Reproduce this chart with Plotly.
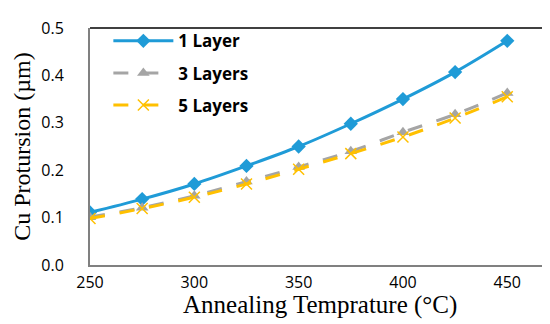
import plotly.graph_objects as go

temps = [250, 275, 300, 325, 350, 375, 400, 425, 450]
layer1 = [0.111, 0.139, 0.171, 0.209, 0.250, 0.298, 0.350, 0.407, 0.473]
layer3 = [0.101, 0.121, 0.146, 0.176, 0.207, 0.240, 0.280, 0.318, 0.363]
layer5 = [0.098, 0.119, 0.143, 0.171, 0.202, 0.235, 0.270, 0.310, 0.355]
series_names = ["1 Layer", "3 Layers", "5 Layers"]
x_title = "Annealing Temprature (°C)"
y_title = "Cu Protursion (µm)"

fig = go.Figure()
fig.add_trace(go.Scatter(x=temps, y=layer1, name=series_names[0], legendgroup="a", mode="lines+markers",
                         line=dict(color="#1F9BD7", width=3, shape="spline"),
                         marker=dict(symbol="diamond", size=11, color="#1F9BD7")))
fig.add_trace(go.Scatter(x=temps, y=layer3, name=series_names[1], legendgroup="b", mode="lines+markers",
                         line=dict(color="#A5A5A5", width=3, shape="spline", dash="longdash"),
                         marker=dict(symbol="triangle-up", size=11, color="#A5A5A5")))
fig.add_trace(go.Scatter(x=temps, y=layer5, name=series_names[2], legendgroup="c", mode="lines+markers",
                         line=dict(color="#FFC000", width=3, shape="spline", dash="longdash"),
                         marker=dict(symbol="x-thin", size=11, color="#FFC000",
                                     line=dict(color="#FFC000", width=1.5))))

fig.update_layout(
    width=550, height=324,
    margin=dict(l=82, r=9, t=13, b=67),
    plot_bgcolor="white", paper_bgcolor="white",
    showlegend=True,
    legend=dict(x=0.04, y=1.02, xanchor="left", yanchor="top",
                font=dict(family="Open Sans", size=17, color="black", weight="bold"),
                itemwidth=60, tracegroupgap=7, bgcolor="rgba(0,0,0,0)"),
    xaxis=dict(range=[250, 470], tickvals=[250, 300, 350, 400, 450],
               showgrid=False, zeroline=False, showline=True, linecolor="#808080", linewidth=2,
               mirror=False, ticks="", ticklabelstandoff=2,
               tickfont=dict(family="Open Sans", size=16, color="black")),
    yaxis=dict(range=[0, 0.5], tickvals=[0, 0.1, 0.2, 0.3, 0.4, 0.5], tickformat=".1f",
               showgrid=False, zeroline=False, showline=True, linecolor="#808080", linewidth=2,
               ticks="", ticklabelstandoff=21,
               tickfont=dict(family="Open Sans", size=16, color="black"),
               title=dict(text=y_title, standoff=4,
                          font=dict(family="Liberation Serif", size=24, color="black"))),
    annotations=[dict(text=x_title, xref="paper", yref="paper", x=0.5, y=-0.168,
                      xanchor="center", yanchor="middle", showarrow=False,
                      font=dict(family="Liberation Serif", size=25, color="black"))],
    shapes=[dict(type="line", xref="paper", yref="paper", x0=0, y0=1, x1=1, y1=1,
                 line=dict(color="black", width=1.5)),
            dict(type="line", xref="paper", yref="paper", x0=1, y0=0, x1=1, y1=1,
                 line=dict(color="black", width=1.5))],
)

fig.write_html("out.html")
